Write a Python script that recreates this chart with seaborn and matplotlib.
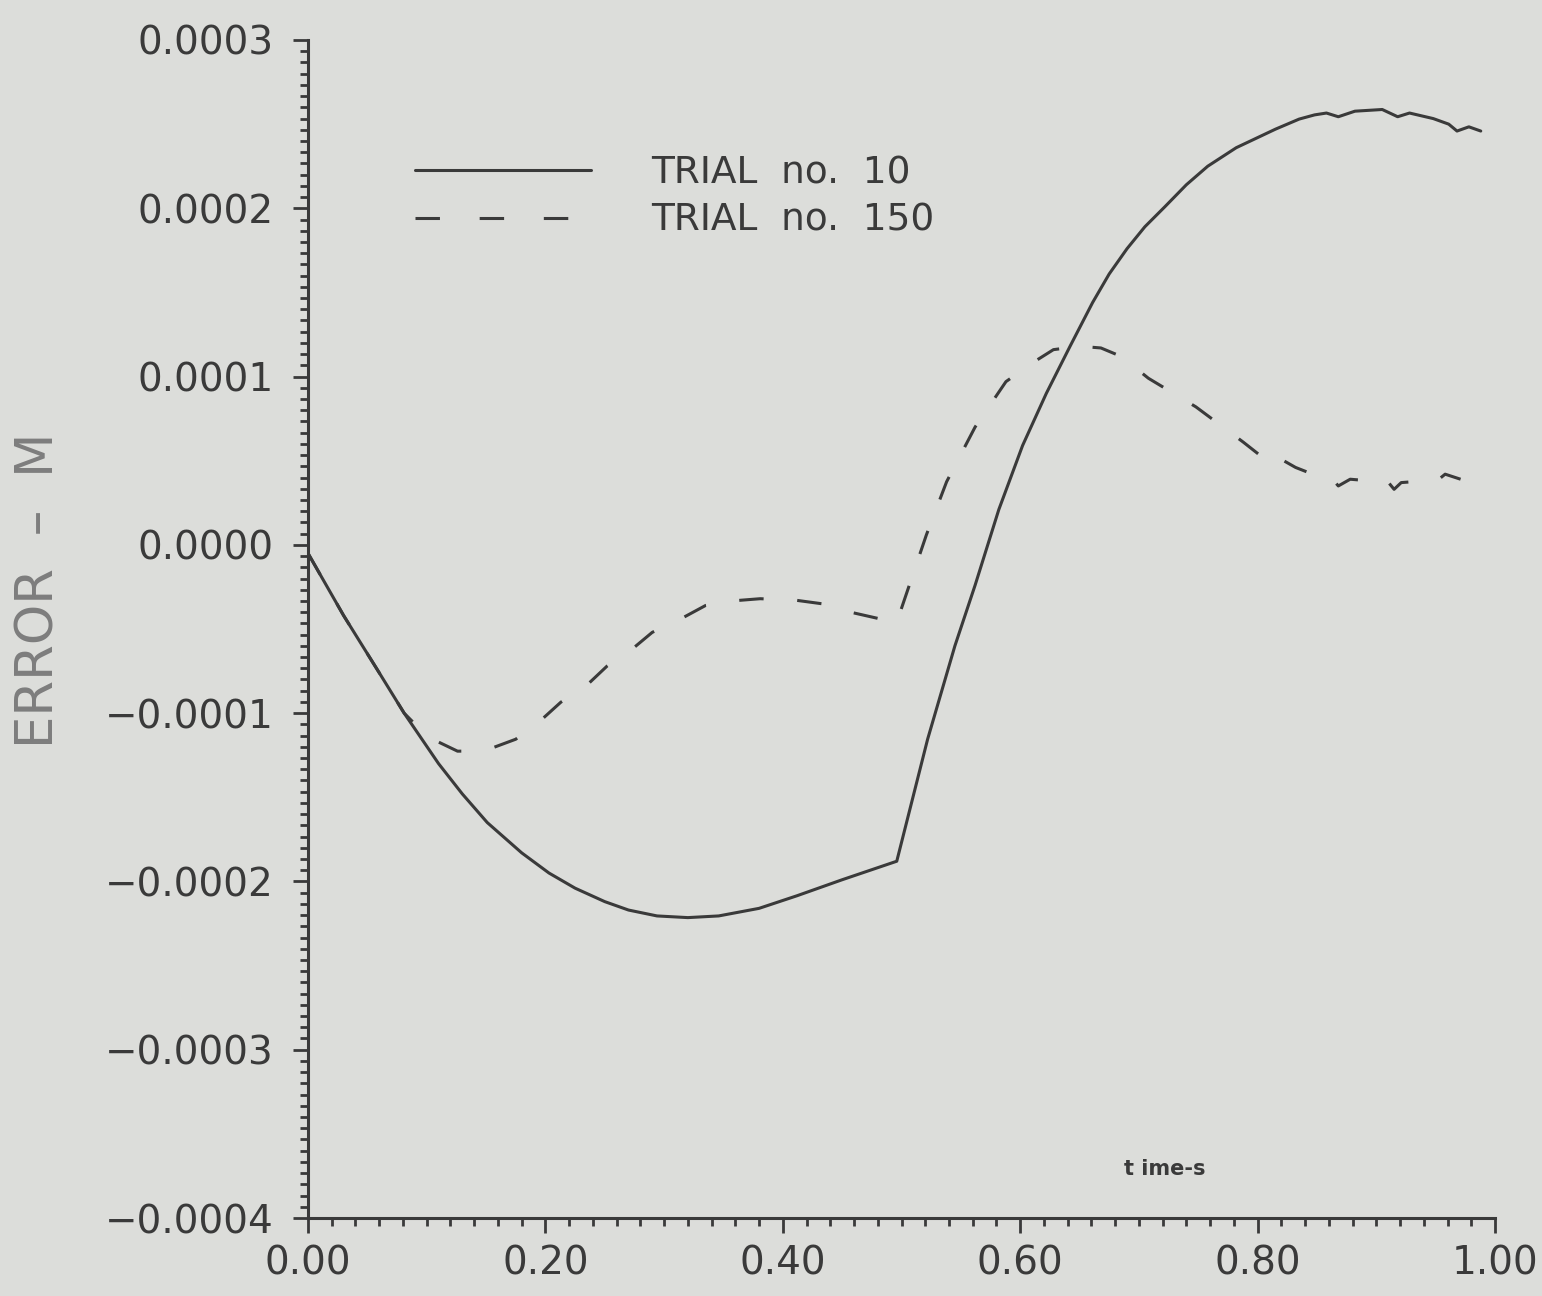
import matplotlib
matplotlib.use("Agg")
import matplotlib.pyplot as plt
import seaborn as sns
import pandas as pd
from matplotlib.ticker import AutoMinorLocator, FuncFormatter

# ---- data (error in units of 1e-4 m vs time in seconds) ----
t_trial10 = [0.0, 0.03, 0.06, 0.081, 0.11, 0.13, 0.151, 0.18, 0.203, 0.225, 0.25,
             0.27, 0.294, 0.32, 0.346, 0.38, 0.412, 0.45, 0.496, 0.522, 0.545, 0.562,
             0.582, 0.602, 0.622, 0.642, 0.661, 0.675, 0.69, 0.705, 0.722, 0.74, 0.758,
             0.782, 0.80, 0.815, 0.835, 0.848, 0.858, 0.868, 0.882, 0.905, 0.918,
             0.928, 0.948, 0.961, 0.968, 0.978, 0.988]
e_trial10 = [-0.05, -0.42, -0.76, -1.00, -1.30, -1.48, -1.65, -1.83, -1.95, -2.04, -2.12,
             -2.17, -2.205, -2.215, -2.205, -2.16, -2.085, -1.99, -1.88, -1.155, -0.60, -0.24,
             0.21, 0.59, 0.90, 1.18, 1.44, 1.61, 1.76, 1.89, 2.01, 2.14, 2.25,
             2.36, 2.42, 2.47, 2.53, 2.555, 2.566, 2.544, 2.577, 2.587, 2.544,
             2.566, 2.533, 2.50, 2.459, 2.484, 2.459]

t_trial150 = [0.0, 0.03, 0.06, 0.081, 0.095, 0.105, 0.126, 0.14, 0.154, 0.175, 0.195,
              0.213, 0.234, 0.252, 0.273, 0.29, 0.314, 0.335, 0.363, 0.381, 0.412,
              0.433, 0.457, 0.482, 0.496, 0.521, 0.538, 0.562, 0.588, 0.61, 0.628,
              0.65, 0.668, 0.685, 0.708, 0.748, 0.788, 0.815, 0.822, 0.832, 0.85,
              0.862, 0.868, 0.878, 0.895, 0.908, 0.915, 0.921, 0.94, 0.951, 0.958, 0.971]
e_trial150 = [-0.05, -0.42, -0.76, -1.00, -1.10, -1.155, -1.226, -1.225, -1.21, -1.155, -1.05,
              -0.935, -0.84, -0.72, -0.62, -0.52, -0.44, -0.36, -0.33, -0.32, -0.33,
              -0.35, -0.40, -0.44, -0.46, 0.06, 0.375, 0.70, 0.97, 1.08, 1.16,
              1.18, 1.17, 1.12, 0.99, 0.82, 0.61, 0.46, 0.50, 0.46, 0.41,
              0.40, 0.35, 0.39, 0.38, 0.39, 0.33, 0.37, 0.38, 0.38, 0.42, 0.39]

scale = 1e-4
labels = ["TRIAL  no.  10", "TRIAL  no.  150"]
y_ticks = [-0.0004, -0.0003, -0.0002, -0.0001, 0.0, 0.0001, 0.0002, 0.0003]
x_ticks = [0.0, 0.2, 0.4, 0.6, 0.8, 1.0]

df10 = pd.DataFrame({"t": t_trial10, "err": [v * scale for v in e_trial10]})
df150 = pd.DataFrame({"t": t_trial150, "err": [v * scale for v in e_trial150]})

# ---- style ----
bg = "#dcddda"
ink = "#3a3a3a"
sns.set_style("ticks")
plt.rcParams["font.family"] = ["DejaVu Sans"]

fig = plt.figure(figsize=(15.42, 12.96), dpi=100, facecolor=bg)
ax = fig.add_axes([308 / 1542, 1 - 1218 / 1296, (1495 - 308) / 1542, (1218 - 40) / 1296])
ax.set_facecolor(bg)

sns.lineplot(data=df10, x="t", y="err", ax=ax, color=ink, linewidth=2.2,
             estimator=None, sort=False, label=labels[0])
sns.lineplot(data=df150, x="t", y="err", ax=ax, color=ink, linewidth=2.2,
             estimator=None, sort=False, label=labels[1],
             linestyle=(0, (8, 11)))

ax.set_xlim(0, 1.0)
ax.set_ylim(-0.0004, 0.0003)
ax.set_xticks(x_ticks)
ax.set_yticks(y_ticks)
ax.xaxis.set_minor_locator(AutoMinorLocator(10))
ax.yaxis.set_minor_locator(AutoMinorLocator(15))
ax.xaxis.set_major_formatter(FuncFormatter(lambda v, p: f"{v:.2f}"))
ax.yaxis.set_major_formatter(
    FuncFormatter(lambda v, p: (f"{v:.4f}" if v >= -1e-12 else "\u2212" + f"{-v:.4f}")))

for s in ["top", "right"]:
    ax.spines[s].set_visible(False)
for s in ["left", "bottom"]:
    ax.spines[s].set_color(ink)
    ax.spines[s].set_linewidth(2.2)

ax.tick_params(axis="both", which="major", direction="out", length=11, width=2,
               color=ink, labelcolor=ink, labelsize=28)
ax.tick_params(axis="both", which="minor", direction="out", length=6, width=2, color=ink)
ax.tick_params(axis="y", which="major", pad=14)
ax.tick_params(axis="x", which="major", pad=8)

ax.set_xlabel("")
ax.set_ylabel("")
fig.text(40 / 1542, 1 - 590 / 1296, "ERROR  \u2013  M", rotation=90, ha="center",
         va="center", fontsize=37, color="#7d7d7d")
ax.text(0.722, -0.000371, "t ime-s", ha="center", va="center", fontsize=15,
        fontweight="bold", color=ink)

leg = ax.legend(loc="upper left", bbox_to_anchor=(0.09, 0.902), frameon=False,
                fontsize=27, handlelength=4.7, handletextpad=1.6, labelspacing=0.3,
                borderpad=0, borderaxespad=0)
for txt in leg.get_texts():
    txt.set_color(ink)
leg.get_lines()[1].set_dashes([8, 13])

fig.savefig("out.png", dpi=100, facecolor=bg)
